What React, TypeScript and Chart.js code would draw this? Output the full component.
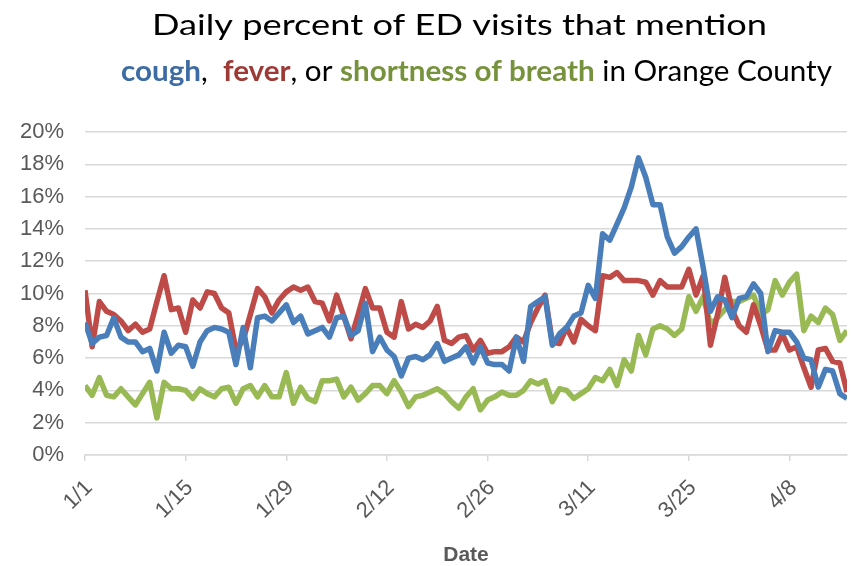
import React, { useEffect, useRef } from 'react';
import { Chart, registerables } from 'chart.js';

Chart.register(...registerables);

// Day index 0 = 1/1; one value per day through 4/16
const tickDays = [0, 14, 28, 42, 56, 70, 84, 98];
const tickLabels = ['1/1', '1/15', '1/29', '2/12', '2/26', '3/11', '3/25', '4/8'];

const cough = [
  8.2, 6.9, 7.3, 7.4, 8.5, 7.3, 7.0, 7.0, 6.4, 6.6,
  5.2, 7.6, 6.3, 6.8, 6.7, 5.5, 7.0, 7.7, 7.9, 7.8,
  7.6, 5.6, 7.9, 5.4, 8.5, 8.6, 8.3, 8.8, 9.3, 8.2,
  8.6, 7.5, 7.7, 7.9, 7.3, 8.5, 8.6, 7.4, 7.7, 9.4,
  6.4, 7.3, 6.5, 6.1, 4.9, 6.0, 6.1, 5.9, 6.2, 6.9,
  5.8, 6.0, 6.2, 6.7, 5.7, 6.7, 5.7, 5.6, 5.6, 5.2,
  7.3, 5.8, 9.2, 9.5, 9.8, 6.8, 7.5, 7.9, 8.6, 8.8,
  10.5, 9.7, 13.7, 13.3, 14.3, 15.3, 16.6, 18.4, 17.2, 15.5,
  15.5, 13.5, 12.5, 12.9, 13.5, 14.0, 11.6, 8.9, 9.8, 9.6,
  8.5, 9.7, 9.8, 10.6, 10.0, 6.4, 7.7, 7.6, 7.6, 7.0,
  6.0, 5.9, 4.2, 5.3, 5.2, 3.8, 3.5,
];

const fever = [
  10.2, 6.7, 9.5, 8.9, 8.7, 8.3, 7.7, 8.1, 7.6, 7.8,
  9.5, 11.1, 9.0, 9.1, 7.6, 9.6, 9.1, 10.1, 10.0, 9.1,
  8.8, 6.5, 7.1, 8.7, 10.3, 9.8, 8.8, 9.6, 10.1, 10.4,
  10.2, 10.4, 9.5, 9.4, 8.3, 9.9, 8.6, 7.2, 8.7, 10.3,
  9.1, 9.1, 7.6, 7.3, 9.5, 7.8, 8.1, 7.9, 8.3, 9.2,
  7.1, 6.9, 7.3, 7.4, 6.5, 7.1, 6.3, 6.4, 6.4, 6.7,
  7.3, 7.0, 8.2, 9.1, 9.9, 7.0, 6.9, 7.9, 7.0, 8.4,
  8.0, 7.7, 11.1, 11.0, 11.3, 10.8, 10.8, 10.8, 10.7, 9.9,
  10.8, 10.4, 10.4, 10.4, 11.5, 9.9, 11.1, 6.8, 8.7, 11.0,
  9.0, 8.0, 7.6, 9.3, 8.0, 6.5, 6.5, 7.5, 6.5, 6.7,
  5.4, 4.2, 6.5, 6.6, 5.8, 5.7, 3.9,
];

const breath = [
  4.3, 3.7, 4.8, 3.7, 3.6, 4.1, 3.6, 3.1, 3.8, 4.5,
  2.3, 4.5, 4.1, 4.1, 4.0, 3.5, 4.1, 3.8, 3.6, 4.1,
  4.2, 3.2, 4.1, 4.3, 3.6, 4.3, 3.6, 3.6, 5.1, 3.2,
  4.2, 3.5, 3.3, 4.6, 4.6, 4.7, 3.6, 4.2, 3.4, 3.8,
  4.3, 4.3, 3.8, 4.6, 3.9, 3.0, 3.6, 3.7, 3.9, 4.1,
  3.8, 3.3, 2.9, 3.6, 4.1, 2.8, 3.4, 3.6, 3.9, 3.7,
  3.7, 4.0, 4.6, 4.4, 4.6, 3.3, 4.1, 4.0, 3.5, 3.8,
  4.1, 4.8, 4.6, 5.3, 4.3, 5.9, 5.2, 7.4, 6.2, 7.8,
  8.0, 7.8, 7.4, 7.8, 9.8, 8.9, 9.8, 8.1, 8.5, 9.0,
  9.5, 9.5, 9.7, 9.9, 8.7, 9.0, 10.8, 9.9, 10.7, 11.2,
  7.7, 8.6, 8.2, 9.1, 8.7, 7.1, 7.7,
];

const titleLines = [
  {
    left: 152, right: 767, baseline: 35, size: 29,
    segs: [{ t: 'Daily percent of ED visits that mention', c: '#000000', b: false }],
  },
  {
    left: 121, right: 832, baseline: 81, size: 28,
    segs: [
      { t: 'cough', c: '#3D6BA3', b: true },
      { t: ',  ', c: '#000000', b: false },
      { t: 'fever', c: '#9E3A35', b: true },
      { t: ', or ', c: '#000000', b: false },
      { t: 'shortness of breath', c: '#76923C', b: true },
      { t: ' in Orange County', c: '#000000', b: false },
    ],
  },
];

const TITLE_FONT = 'Lato';
const AXIS_FONT = "'Liberation Sans', Arial, sans-serif";
const GRID = '#D9D9D9';
const TEXT = '#595959';

const richTitle = {
  id: 'richTitle',
  afterDraw(chart: any) {
    const ctx = chart.ctx as CanvasRenderingContext2D;
    const fontFor = (b: boolean, size: number) => `${b ? 'bold ' : ''}${size}px ${TITLE_FONT}`;
    for (const line of titleLines) {
      ctx.save();
      ctx.textBaseline = 'alphabetic';
      ctx.textAlign = 'left';
      let w = 0;
      for (const s of line.segs) {
        ctx.font = fontFor(s.b, line.size);
        w += ctx.measureText(s.t).width;
      }
      const sx = (line.right - line.left) / w;
      ctx.translate(line.left, line.baseline);
      ctx.scale(sx, 1);
      let x = 0;
      for (const s of line.segs) {
        ctx.font = fontFor(s.b, line.size);
        ctx.fillStyle = s.c;
        ctx.fillText(s.t, x, 0);
        x += ctx.measureText(s.t).width;
      }
      ctx.restore();
    }
  },
};

const toPoints = (arr: number[]) => arr.map((v, i) => ({ x: i, y: v }));

export default function App() {
  const ref = useRef<HTMLCanvasElement>(null);

  useEffect(() => {
    if (!ref.current) return;
    const line = (label: string, data: number[], color: string) => ({
      label,
      data: toPoints(data),
      borderColor: color,
      borderWidth: 5.5,
      pointRadius: 0,
      borderJoinStyle: 'round',
      tension: 0,
    });
    const chart = new Chart(ref.current, {
      type: 'line',
      data: {
        datasets: [
          line('cough', cough, '#4A7EBB'),
          line('fever', fever, '#BE4B48'),
          line('shortness of breath', breath, '#98B954'),
        ],
      },
      options: {
        animation: false,
        responsive: false,
        devicePixelRatio: 1,
        layout: { padding: { top: 132, left: 0, right: 6, bottom: 0 } },
        plugins: { legend: { display: false }, tooltip: { enabled: false }, title: { display: false } },
        scales: {
          x: {
            type: 'linear',
            min: 0,
            max: 106,
            afterBuildTicks: (s: any) => {
              s.ticks = tickDays.map((v) => ({ value: v }));
            },
            afterFit: (s: any) => {
              s.height = 111;
            },
            ticks: {
              autoSkip: false,
              minRotation: 45,
              maxRotation: 45,
              padding: 14,
              labelOffset: 4,
              color: TEXT,
              font: { family: AXIS_FONT, size: 22 },
              callback: (v: any) => {
                const i = tickDays.indexOf(Number(v));
                return i >= 0 ? tickLabels[i] : '';
              },
            },
            grid: { drawOnChartArea: false, drawTicks: true, tickLength: 6, color: GRID, lineWidth: 1.5 },
            border: { display: true, color: GRID, width: 1.5 },
            title: {
              display: true,
              text: 'Date',
              color: TEXT,
              font: { family: AXIS_FONT, size: 21, weight: 'bold', lineHeight: 1 },
              padding: { top: 0, bottom: 0 },
            },
          },
          y: {
            min: 0,
            max: 20,
            afterFit: (s: any) => {
              s.width = 85;
            },
            ticks: {
              stepSize: 2,
              padding: 21,
              color: TEXT,
              font: { family: AXIS_FONT, size: 22 },
              callback: (v: any) => `${v}%`,
            },
            grid: { color: GRID, lineWidth: 1.5, drawTicks: false },
            border: { display: false },
          },
        },
      },
      plugins: [richTitle],
    } as any);
    return () => chart.destroy();
  }, []);

  return (
    <div style={{ position: 'absolute', left: 0, top: 0, width: 853, height: 566, background: '#fff' }}>
      <canvas ref={ref} width={853} height={566} style={{ display: 'block', width: 853, height: 566 }} />
    </div>
  );
}
